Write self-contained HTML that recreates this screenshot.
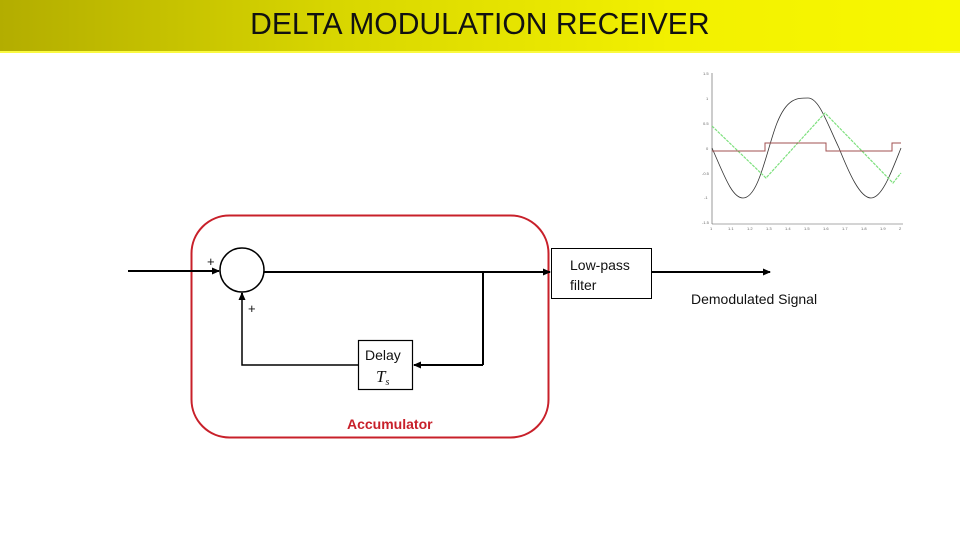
<!DOCTYPE html>
<html><head><style>
body{margin:0;width:960px;height:540px;background:#fff;position:relative;overflow:hidden;font-family:"Liberation Sans",sans-serif}
#hdr{position:absolute;left:0;top:0;width:960px;height:51px;background:linear-gradient(90deg,#b3ad00 0%,#d8d600 35%,#f2f000 70%,#f8f800 100%);border-bottom:2px solid #fafa40}
#title{position:absolute;left:0;top:6px;width:960px;text-align:center;font-size:31px;color:#111}
#title span{display:inline-block;transform:scaleX(0.97)}
</style></head><body>
<div id="hdr"></div>
<div id="title"><span>DELTA MODULATION RECEIVER</span></div>
<svg width="960" height="540" style="position:absolute;left:0;top:0">
<defs><marker id="a" markerWidth="8" markerHeight="8" refX="7" refY="4" orient="auto" markerUnits="userSpaceOnUse"><path d="M0,0.5 L8,4 L0,7.5 z" fill="#000"/></marker></defs>
<g stroke="#555" stroke-width="0.6" fill="none">
<line x1="712" y1="73" x2="712" y2="224"/><line x1="712" y1="224" x2="903" y2="224"/>
</g>
<g font-size="4" fill="#666" font-family="Liberation Sans">
<text x="703" y="75">1.5</text><text x="706" y="100">1</text><text x="703" y="125">0.5</text><text x="706" y="150">0</text><text x="702" y="175">-0.5</text><text x="704" y="199">-1</text><text x="702" y="224">-1.5</text>
<text x="710" y="230">1</text><text x="728" y="230">1.1</text><text x="747" y="230">1.2</text><text x="766" y="230">1.3</text><text x="785" y="230">1.4</text><text x="804" y="230">1.5</text><text x="823" y="230">1.6</text><text x="842" y="230">1.7</text><text x="861" y="230">1.8</text><text x="880" y="230">1.9</text><text x="899" y="230">2</text>
</g>
<path fill="none" stroke="#333" stroke-width="0.8" d="M712,148 C724,175 732,198 743,198 C759,198 767,148 777,123 C787,98 797,98 808,98 C819,98 827,123 839,148 C849,173 860,198 871,198 C882,198 891,173 901,148"/>
<path fill="none" stroke="#7de07d" stroke-width="1.2" stroke-dasharray="3,1" d="M712,126 L766,178 L825,113 L893,183 L901,173"/>
<path fill="none" stroke="#a05050" stroke-width="1" d="M712,151 L765,151 L765,143 L826,143 L826,151 L892,151 L892,143 L901,143"/>
<rect x="191.5" y="215.5" width="357" height="222" rx="38" fill="none" stroke="#c8202a" stroke-width="2"/>
<g stroke="#000" stroke-width="2" fill="none">
<line x1="128" y1="271" x2="219" y2="271" marker-end="url(#a)"/>
<circle cx="242" cy="270" r="22" stroke-width="1.5"/>
<line x1="264" y1="272" x2="550" y2="272" marker-end="url(#a)"/>
<line x1="483" y1="272" x2="483" y2="365"/>
<line x1="483" y1="365" x2="414" y2="365" marker-end="url(#a)"/>
<polyline points="358,365 242,365 242,293" stroke-width="1.5"/>
<line x1="242" y1="300" x2="242" y2="293" marker-end="url(#a)"/>
<line x1="652" y1="272" x2="770" y2="272" marker-end="url(#a)"/>
</g>
<rect x="358.5" y="340.5" width="54" height="49" fill="#fff" stroke="#000" stroke-width="1.2"/>
<rect x="551.5" y="248.5" width="100" height="50" fill="#fff" stroke="#000" stroke-width="1"/>
<g font-family="Liberation Sans" fill="#111">
<text x="207" y="266" font-size="13">+</text>
<text x="248" y="313" font-size="13">+</text>
<text x="365" y="360" font-size="14">Delay</text>
<text x="376" y="382" font-size="17" font-style="italic" font-family="Liberation Serif">T<tspan font-size="10" dy="3">s</tspan></text>
<text x="570" y="270" font-size="14">Low-pass</text>
<text x="570" y="290" font-size="14">filter</text>
<text x="691" y="304" font-size="14">Demodulated Signal</text>
<text x="347" y="429" font-size="14" font-weight="bold" fill="#c8202a">Accumulator</text>
</g>
</svg>
</body></html>
